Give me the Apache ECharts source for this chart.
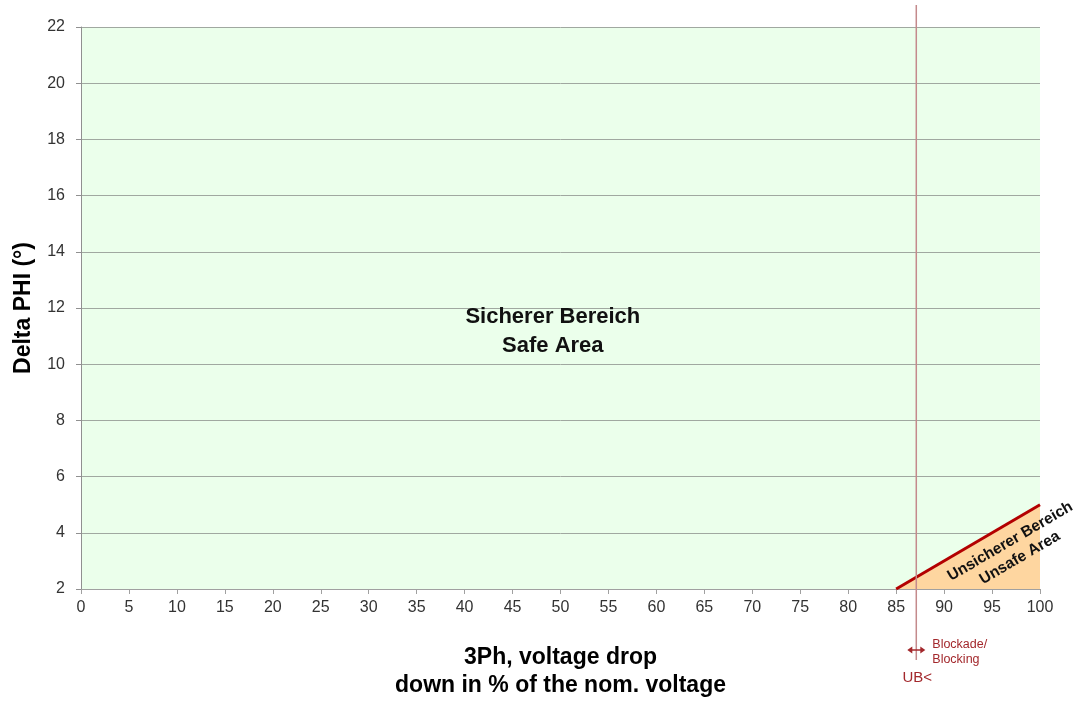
<!DOCTYPE html>
<html>
<head>
<meta charset="utf-8">
<script src="https://cdn.jsdelivr.net/npm/echarts@6/dist/echarts.min.js"></script>
<style>html,body{margin:0;padding:0;background:#fff}#c{width:1085px;height:702px}</style>
</head>
<body>
<div id="c"></div>
<script>
// ---- data ----
const xMin = 0, xMax = 100, xStep = 5;
const yMin = 2, yMax = 22, yStep = 2;
const boundaryLine = [[85, 2], [100, 5]];      // limit line between safe and unsafe area
const blockingVoltage = 87.1;                   // UB< blocking threshold (%)
const safeLabelPos = [49.2, 11.15];
const unsafeLabelPos = [97.4, 3.4];
const yAxisTitle = 'Delta PHI (°)';
const xAxisTitle = '3Ph, voltage drop\ndown in % of the nom. voltage';
const safeText = 'Sicherer Bereich\nSafe Area';
const unsafeText = 'Unsicherer Bereich\nUnsafe Area';
const blockText = 'Blockade/\nBlocking';
const ubText = 'UB<';

const FONT = 'Liberation Sans, Arial, sans-serif';
const RED = '#a3282c';

const chart = echarts.init(document.getElementById('c'));
chart.setOption({
  animation: false,
  grid: { left: 81, right: 45, top: 27, bottom: 113, show: true, backgroundColor: '#ebffeb', borderWidth: 0, outerBoundsMode: 'none', containLabel: false },
  xAxis: {
    type: 'value', min: xMin, max: xMax, interval: xStep,
    name: xAxisTitle, nameLocation: 'middle', nameGap: 55,
    nameTextStyle: { fontFamily: FONT, fontSize: 23, fontWeight: 'bold', color: '#000', lineHeight: 28 },
    axisLine: { show: true, lineStyle: { color: '#a0a0a0', width: 1 } },
    axisTick: { show: true, length: 5, lineStyle: { color: '#a0a0a0' } },
    axisLabel: { fontFamily: FONT, fontSize: 16, color: '#333', margin: 11 },
    splitLine: { show: false }
  },
  yAxis: {
    type: 'value', min: yMin, max: yMax, interval: yStep,
    name: yAxisTitle, nameLocation: 'middle', nameGap: 46, nameRotate: 90,
    nameTextStyle: { fontFamily: FONT, fontSize: 23, fontWeight: 'bold', color: '#000' },
    axisLine: { show: true, lineStyle: { color: '#909090', width: 1 } },
    axisTick: { show: true, length: 5, lineStyle: { color: '#909090' } },
    axisLabel: { fontFamily: FONT, fontSize: 16, color: '#333', margin: 16 },
    splitLine: { show: true, lineStyle: { color: '#a0a8a0', width: 1 } }
  },
  series: [
    {
      type: 'line', data: boundaryLine, symbol: 'none', silent: true,
      lineStyle: { color: '#b30000', width: 3 },
      areaStyle: { color: '#fed6a0', opacity: 1, origin: 'start' },
      z: 3
    },
    {
      type: 'custom', data: [[blockingVoltage, yMin]], silent: true, clip: false, z: 5,
      renderItem: function (params, api) {
        const top = api.coord([blockingVoltage, yMax]);
        const bot = api.coord([blockingVoltage, yMin]);
        const x = top[0];
        const ay = bot[1] + 61;
        const p1 = api.coord(boundaryLine[0]);
        const p2 = api.coord(boundaryLine[1]);
        const ang = Math.atan2(p1[1] - p2[1], p2[0] - p1[0]);
        const sp = api.coord(safeLabelPos);
        const up = api.coord(unsafeLabelPos);
        return {
          type: 'group',
          children: [
            { type: 'line', shape: { x1: x, y1: top[1] - 22, x2: x, y2: bot[1] + 71 }, style: { stroke: '#c48a8c', lineWidth: 1.5 } },
            { type: 'line', shape: { x1: x - 6, y1: ay, x2: x + 6, y2: ay }, style: { stroke: RED, lineWidth: 1.5 } },
            { type: 'polygon', shape: { points: [[x - 9, ay], [x - 4, ay - 3.5], [x - 4, ay + 3.5]] }, style: { fill: RED } },
            { type: 'polygon', shape: { points: [[x + 9, ay], [x + 4, ay - 3.5], [x + 4, ay + 3.5]] }, style: { fill: RED } },
            { type: 'text', x: x + 16, y: bot[1] + 48, style: { text: blockText, fill: RED, font: '12.5px ' + FONT, lineHeight: 15, verticalAlign: 'top', align: 'left' } },
            { type: 'text', x: x + 1, y: bot[1] + 89, style: { text: ubText, fill: RED, font: '15px ' + FONT, align: 'center', verticalAlign: 'middle' } },
            { type: 'text', x: sp[0], y: sp[1], style: { text: safeText, fill: '#111', font: 'bold 22px ' + FONT, lineHeight: 29, align: 'center', verticalAlign: 'middle' } },
            { type: 'text', x: up[0], y: up[1], rotation: ang, originX: 0, originY: 0, style: { text: unsafeText, fill: '#111', font: 'bold 15.5px ' + FONT, lineHeight: 19, align: 'center', verticalAlign: 'middle' } }
          ]
        };
      }
    }
  ]
});
</script>
</body>
</html>
